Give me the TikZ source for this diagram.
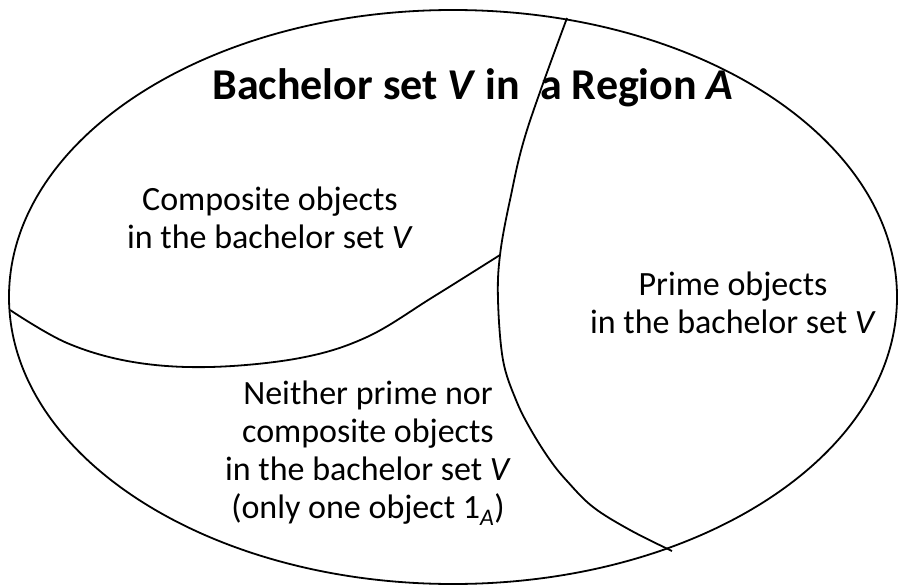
\documentclass[tikz,border=0pt]{standalone}
\usepackage{fontspec}
\setmainfont{Carlito}
\begin{document}
\begin{tikzpicture}[x=1pt,y=-1pt,line width=1.8pt,
  txt/.style={align=center,font=\fontsize{34}{38}\selectfont,inner sep=0pt},
  ttl/.style={font=\bfseries\fontsize{44}{48}\selectfont,inner sep=0pt}]
\useasboundingbox (0,0) rectangle (902,586);
\draw (453,297) ellipse [x radius=444, y radius=287];
\coordinate (ltop) at (567,18);
\coordinate (junc) at (500,255);
\coordinate (lbot) at (672,551);
\coordinate (lleft) at (10,310);
\draw plot[smooth,tension=0.6] coordinates {(ltop) (527,130) (510,200) (junc) (498,300) (503,360) (516,400) (531,430) (550,460) (567,481) (593,507) (630,530) (lbot)};
\draw plot[smooth,tension=0.6] coordinates {(lleft) (67,343) (133,362) (210,367) (300,358) (367,337) (433,297) (junc)};
\node[ttl] (title) at (473,88) {Bachelor set \textit{V} in\ \ a Region \textit{A}};
\node[txt] (comp) at (270,218) {Composite objects\\in the bachelor set \textit{V}};
\node[txt] (prime) at (733,303) {Prime objects\\in the bachelor set \textit{V}};
\node[txt] (neither) at (368,453) {Neither prime nor\\composite objects\\in the bachelor set \textit{V}\\(only one object 1\textsubscript{\itshape A})};
\end{tikzpicture}
\end{document}
